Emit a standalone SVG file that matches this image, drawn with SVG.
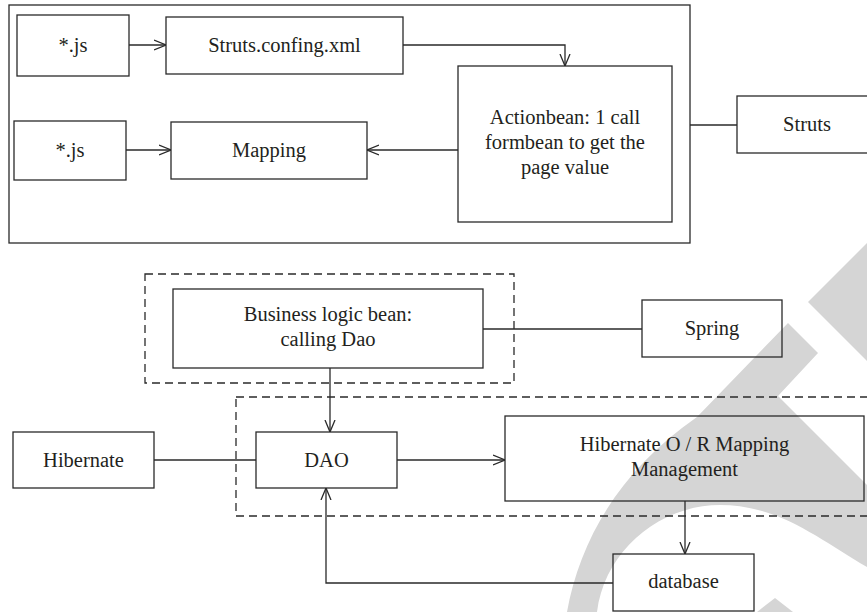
<svg xmlns="http://www.w3.org/2000/svg" width="867" height="612" viewBox="0 0 867 612">
<style>
.box{fill:none;stroke:#2a2a2a;stroke-width:1.3}
.dash{fill:none;stroke:#2a2a2a;stroke-width:1.3;stroke-dasharray:8 5}
.ln{fill:none;stroke:#2a2a2a;stroke-width:1.3}
.t{font-size:20.5px;fill:#231f20;text-anchor:middle}
.wm{fill:#d5d5d5}
</style>
<defs>
<marker id="ah" viewBox="0 0 12 12" refX="12" refY="6" markerWidth="12" markerHeight="12" markerUnits="userSpaceOnUse" orient="auto">
<path d="M0,1 L12,6 L0,11" fill="none" stroke="#2a2a2a" stroke-width="1.3"/>
</marker>
</defs>
<rect width="867" height="612" fill="#ffffff"/>
<g id="watermark">
<path class="wm" d="M808,302 L867,243 L867,361 Z"/>
<path class="wm" d="M567,612 C580,540 620,470 697,417 L788,323 L818,353 L778,396 L867,485 L867,567 C820,540 780,505 720,505 C660,505 605,550 597,612 Z"/>
<path class="wm" d="M757,612 L775,598 L793,612 Z"/>
</g>
<g id="containers">
<rect class="box" x="9" y="5" width="681" height="238"/>
<rect class="dash" x="145" y="274" width="369" height="109"/>
<rect class="dash" x="236" y="397" width="640" height="119"/>
</g>
<g id="connectors">
<line class="ln" x1="129" y1="45" x2="166" y2="45" marker-end="url(#ah)"/>
<polyline class="ln" points="403,45 565,45 565,66" marker-end="url(#ah)"/>
<line class="ln" x1="126" y1="150" x2="171" y2="150" marker-end="url(#ah)"/>
<line class="ln" x1="458" y1="150" x2="367" y2="150" marker-end="url(#ah)"/>
<line class="ln" x1="690" y1="125" x2="737" y2="125"/>
<line class="ln" x1="483" y1="329" x2="642" y2="329"/>
<line class="ln" x1="330" y1="368" x2="330" y2="432" marker-end="url(#ah)"/>
<line class="ln" x1="154" y1="460" x2="256" y2="460"/>
<line class="ln" x1="397" y1="460" x2="505" y2="460" marker-end="url(#ah)"/>
<line class="ln" x1="685" y1="501" x2="685" y2="554" marker-end="url(#ah)"/>
<polyline class="ln" points="613,583 326,583 326,488" marker-end="url(#ah)"/>
</g>
<g font-family="Liberation Serif, DejaVu Serif, serif">
<g id="js1"><rect class="box" x="17" y="15" width="112" height="61"/><text class="t" x="73" y="52">*.js</text></g>
<g id="strutsconfig"><rect class="box" x="166" y="17" width="237" height="57"/><text class="t" x="284.5" y="52">Struts.confing.xml</text></g>
<g id="js2"><rect class="box" x="14" y="121" width="112" height="59"/><text class="t" x="70" y="157">*.js</text></g>
<g id="mapping"><rect class="box" x="171" y="122" width="196" height="57"/><text class="t" x="269" y="157">Mapping</text></g>
<g id="actionbean"><rect class="box" x="458" y="66" width="214" height="156"/>
<text class="t" x="565" y="124">Actionbean: 1 call</text>
<text class="t" x="565" y="149">formbean to get the</text>
<text class="t" x="565" y="174">page value</text></g>
<g id="struts"><rect class="box" x="737" y="96" width="140" height="57"/><text class="t" x="807" y="131">Struts</text></g>
<g id="business"><rect class="box" x="173" y="289" width="310" height="79"/>
<text class="t" x="328" y="321">Business logic bean:</text>
<text class="t" x="328" y="346">calling Dao</text></g>
<g id="spring"><rect class="box" x="642" y="300" width="140" height="57"/><text class="t" x="712" y="335">Spring</text></g>
<g id="hibernate"><rect class="box" x="13" y="432" width="141" height="56"/><text class="t" x="83.5" y="467">Hibernate</text></g>
<g id="dao"><rect class="box" x="256" y="432" width="141" height="56"/><text class="t" x="326.5" y="467">DAO</text></g>
<g id="orm"><rect class="box" x="505" y="416" width="359" height="85"/>
<text class="t" x="684.5" y="451">Hibernate O / R Mapping</text>
<text class="t" x="684.5" y="476">Management</text></g>
<g id="database"><rect class="box" x="613" y="554" width="141" height="57"/><text class="t" x="683.5" y="588">database</text></g>
</g>
</svg>
